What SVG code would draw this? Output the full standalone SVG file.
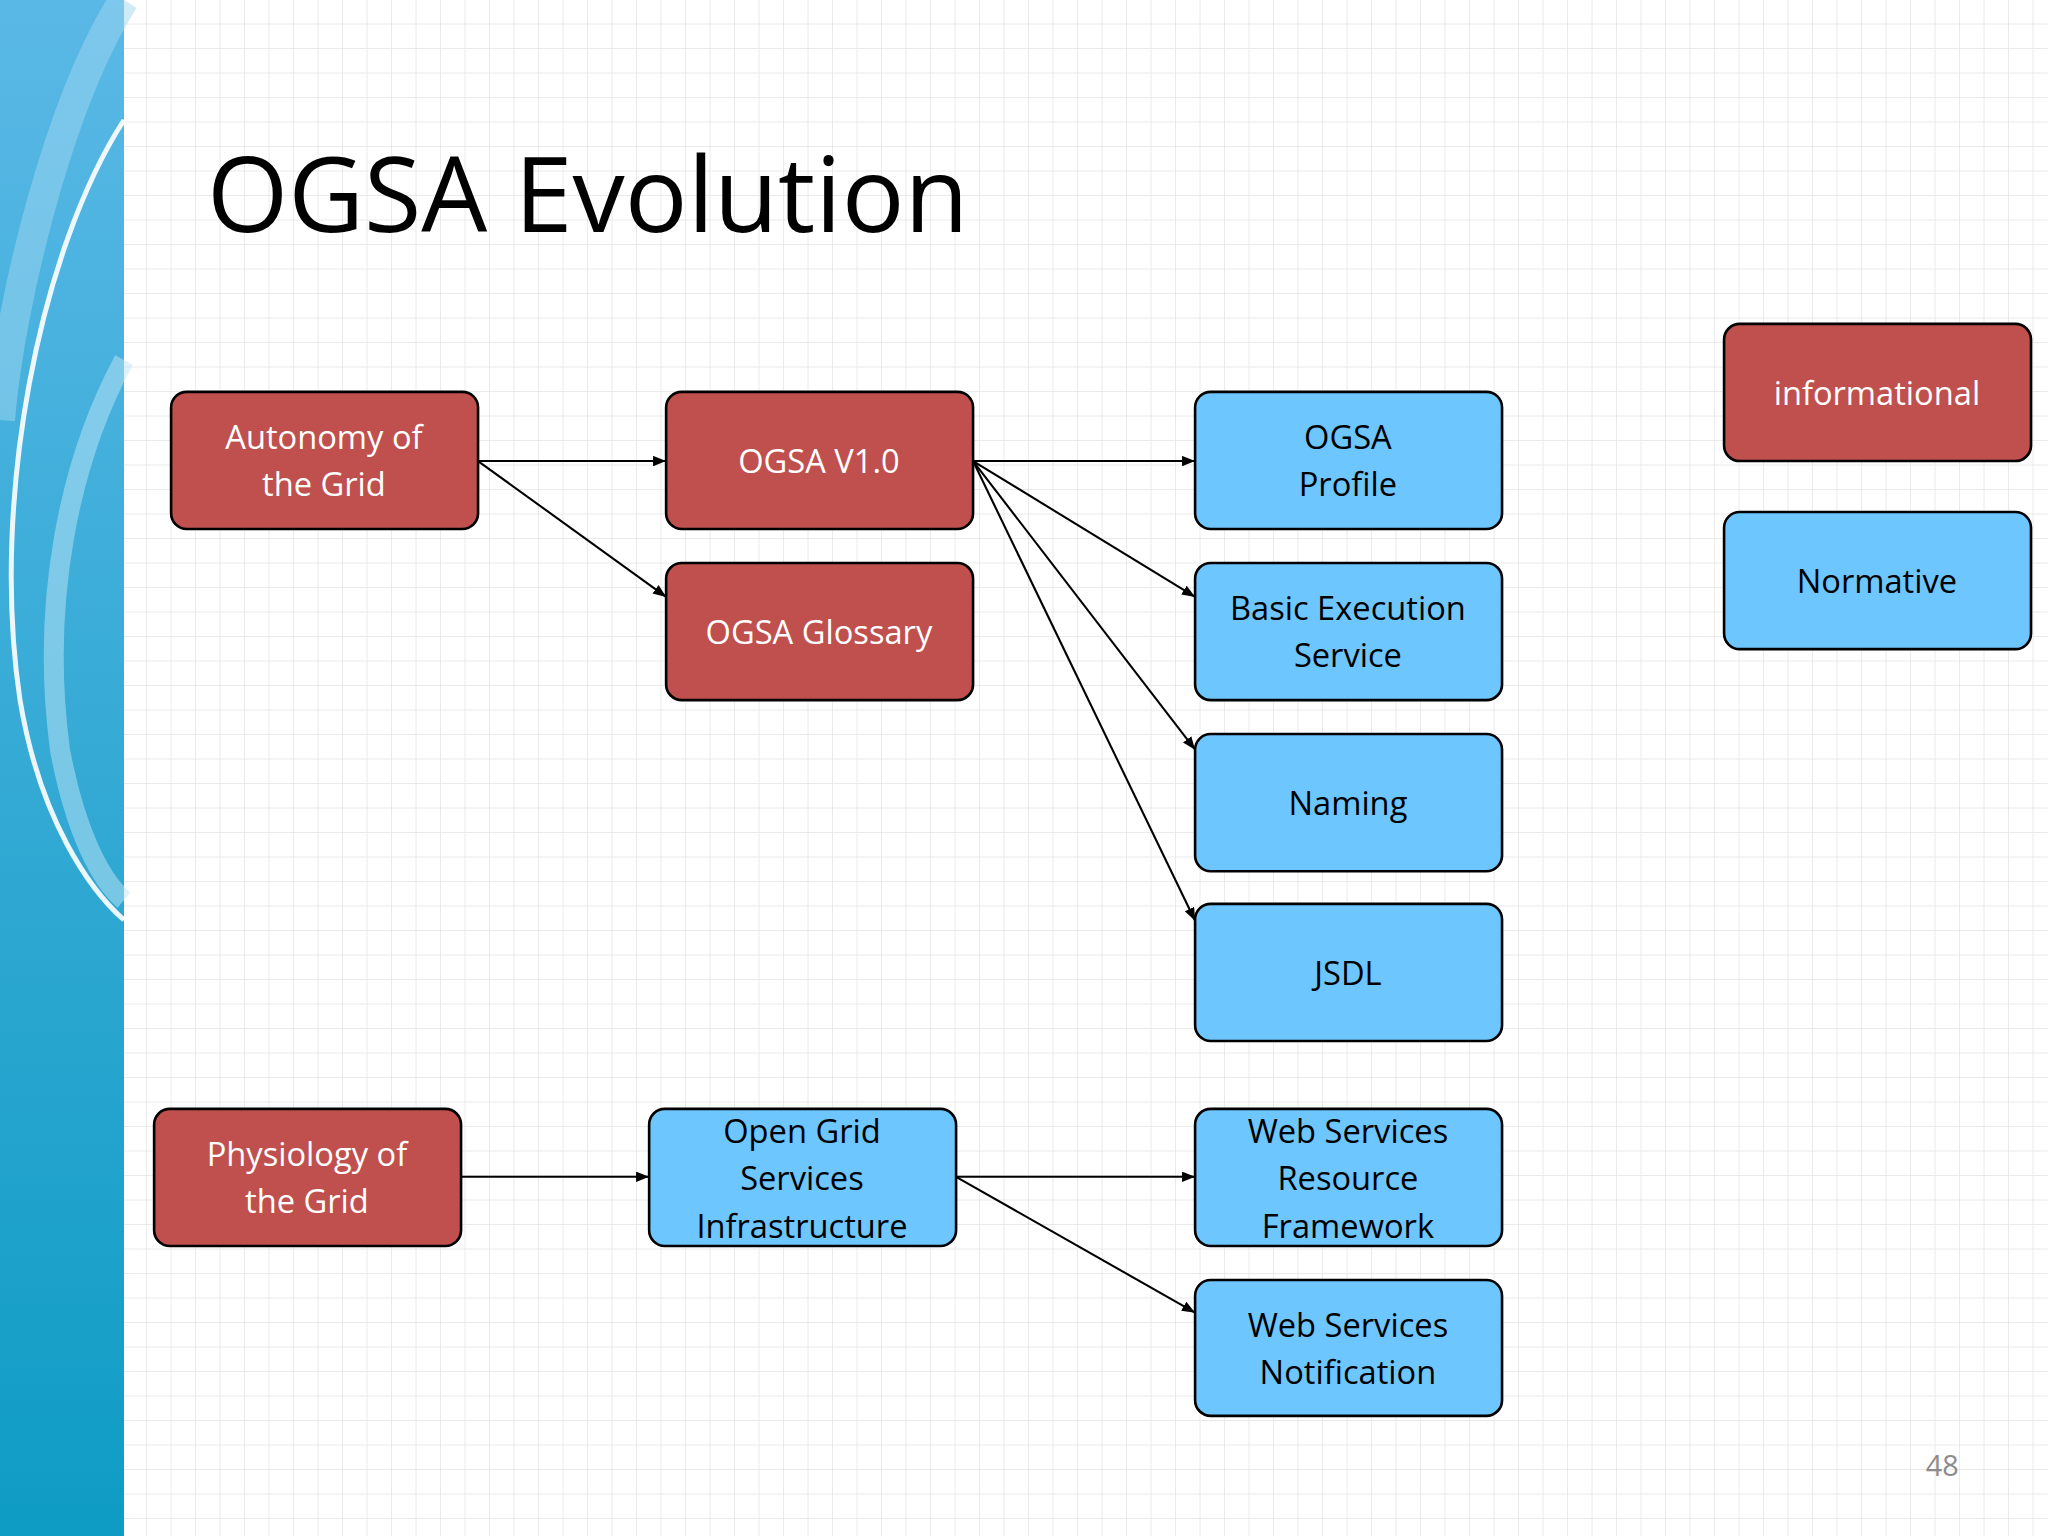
<svg xmlns="http://www.w3.org/2000/svg" width="2048" height="1536" viewBox="0 0 2048 1536">
<defs>
<pattern id="grid" width="24.5" height="24.5" patternUnits="userSpaceOnUse"><path d="M24.5 0V24.5H0" fill="none" stroke="#e4e4e4" stroke-width="1.5"/></pattern>
<linearGradient id="side" x1="0" y1="0" x2="0" y2="1"><stop offset="0" stop-color="#5ab8e6"/><stop offset="1" stop-color="#0e9cc4"/></linearGradient>
<marker id="ah" markerWidth="10" markerHeight="8" refX="10" refY="4" orient="auto" markerUnits="userSpaceOnUse"><path d="M0 0L10 4L0 8z" fill="#000"/></marker>
<style>
.r rect{fill:#c0504d;stroke:#000;stroke-width:2}
.b rect{fill:#6ec6ff;stroke:#000;stroke-width:2}
text{font-family:"Open Sans","Liberation Sans",sans-serif;font-size:25px;text-anchor:middle}
.r text{fill:#fff}
.b text{fill:#000}
#edges line{stroke:#000;stroke-width:1.6;marker-end:url(#ah)}
</style>
</defs>
<rect width="2048" height="1536" fill="#fff"/>
<rect width="2048" height="1536" fill="url(#grid)"/>
<rect width="124" height="1536" fill="url(#side)"/>
<path d="M124 120C40 250 -10 500 20 700C40 820 90 890 124 920" fill="none" stroke="#fff" stroke-width="5" opacity="0.9"/>
<path d="M124 360C70 460 40 600 60 750C75 830 100 880 124 900" fill="none" stroke="#bfe6f7" stroke-width="20" opacity="0.5"/>
<path d="M124 0C60 100 10 300 0 420" fill="none" stroke="#9fd8f2" stroke-width="30" opacity="0.5"/>
<g transform="scale(1.30612)">
<text x="450" y="178" style="font-size:80px;text-anchor:middle" fill="#000">OGSA Evolution</text>
<g id="edges">
<line x1="366" y1="353" x2="510" y2="353"/>
<line x1="366" y1="353" x2="510" y2="457"/>
<line x1="745" y1="353" x2="915" y2="353"/>
<line x1="745" y1="353" x2="915" y2="457"/>
<line x1="745" y1="353" x2="915" y2="574"/>
<line x1="745" y1="353" x2="915" y2="705"/>
<line x1="353" y1="901" x2="497" y2="901"/>
<line x1="732" y1="901" x2="915" y2="901"/>
<line x1="732" y1="901" x2="915" y2="1005"/>
</g>
<g id="autonomy" class="r"><rect x="131" y="300" width="235" height="105" rx="12"/><text x="248" y="344">Autonomy of</text><text x="248" y="380">the Grid</text></g>
<g id="ogsa_v1" class="r"><rect x="510" y="300" width="235" height="105" rx="12"/><text x="627" y="362">OGSA V1.0</text></g>
<g id="glossary" class="r"><rect x="510" y="431" width="235" height="105" rx="12"/><text x="627" y="493">OGSA Glossary</text></g>
<g id="profile" class="b"><rect x="915" y="300" width="235" height="105" rx="12"/><text x="1032" y="344">OGSA</text><text x="1032" y="380">Profile</text></g>
<g id="bes" class="b"><rect x="915" y="431" width="235" height="105" rx="12"/><text x="1032" y="475">Basic Execution</text><text x="1032" y="511">Service</text></g>
<g id="naming" class="b"><rect x="915" y="562" width="235" height="105" rx="12"/><text x="1032" y="624">Naming</text></g>
<g id="jsdl" class="b"><rect x="915" y="692" width="235" height="105" rx="12"/><text x="1032" y="754">JSDL</text></g>
<g id="informational" class="r"><rect x="1320" y="248" width="235" height="105" rx="12"/><text x="1437" y="310">informational</text></g>
<g id="normative" class="b"><rect x="1320" y="392" width="235" height="105" rx="12"/><text x="1437" y="454">Normative</text></g>
<g id="physiology" class="r"><rect x="118" y="849" width="235" height="105" rx="12"/><text x="235" y="893">Physiology of</text><text x="235" y="929">the Grid</text></g>
<g id="ogsi" class="b"><rect x="497" y="849" width="235" height="105" rx="12"/><text x="614" y="875">Open Grid</text><text x="614" y="911">Services</text><text x="614" y="948">Infrastructure</text></g>
<g id="wsrf" class="b"><rect x="915" y="849" width="235" height="105" rx="12"/><text x="1032" y="875">Web Services</text><text x="1032" y="911">Resource</text><text x="1032" y="948">Framework</text></g>
<g id="wsn" class="b"><rect x="915" y="980" width="235" height="104" rx="12"/><text x="1032" y="1024">Web Services</text><text x="1032" y="1060">Notification</text></g>
<text x="1487" y="1130" style="font-size:22px" fill="#8c8c8c">48</text>
</g>
</svg>
